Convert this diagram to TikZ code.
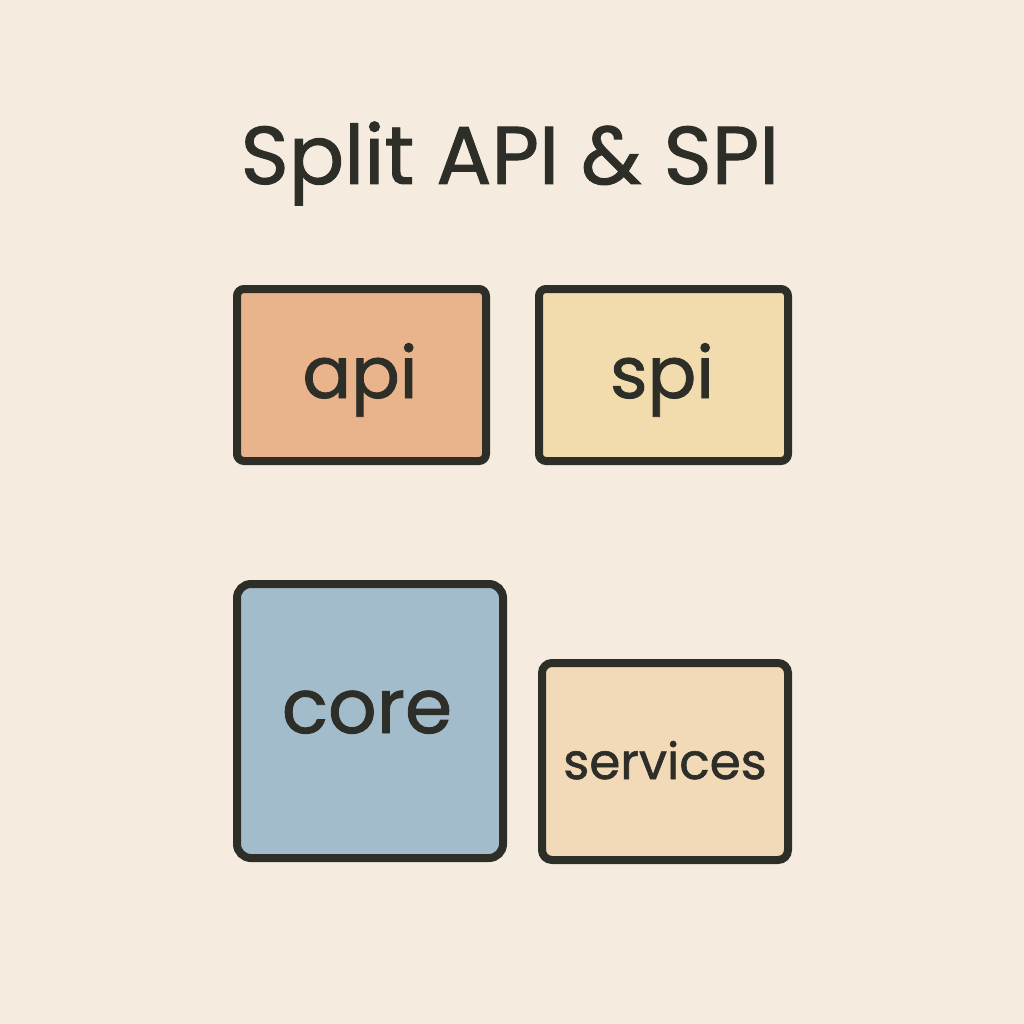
\documentclass[tikz,border=0pt]{standalone}
\usepackage{fontspec}
\setmainfont{Poppins}
\newfontfamily\medfont{Poppins}[FakeBold=1.2]
\definecolor{bg}{HTML}{F5ECDF}
\definecolor{ink}{HTML}{2E2E28}
\definecolor{apifill}{HTML}{E9B48C}
\definecolor{spifill}{HTML}{F2DCAE}
\definecolor{corefill}{HTML}{A3BCCB}
\definecolor{svcfill}{HTML}{F2D9B7}
\begin{document}
\begin{tikzpicture}[x=1pt,y=-1pt,
  box/.style={draw=ink,line width=8pt,rounded corners=7pt},
  lbl/.style={text=ink,inner sep=0pt,anchor=base}]
\useasboundingbox (0,0) rectangle (1024,1024);
\fill[bg] (0,0) rectangle (1024,1024);
\node[lbl,font=\medfont\fontsize{82}{90}\selectfont] (title) at (510,184) {Split API \& SPI};
\draw[box,fill=apifill] (237,289) rectangle (486,461);
\draw[box,fill=spifill] (539,289) rectangle (788,461);
\draw[box,fill=corefill,rounded corners=14pt] (237,584) rectangle (503,858);
\draw[box,fill=svcfill,rounded corners=10pt] (542,663) rectangle (788,860);
\node[lbl,font=\medfont\fontsize{72}{80}\selectfont] (api) at (360,398) {api};
\node[lbl,font=\medfont\fontsize{72}{80}\selectfont] (spi) at (662,398) {spi};
\node[lbl,font=\medfont\fontsize{76}{80}\selectfont] (core) at (367,733) {core};
\node[lbl,font=\medfont\fontsize{50}{60}\selectfont] (svc) at (665,779) {services};
\end{tikzpicture}
\end{document}
